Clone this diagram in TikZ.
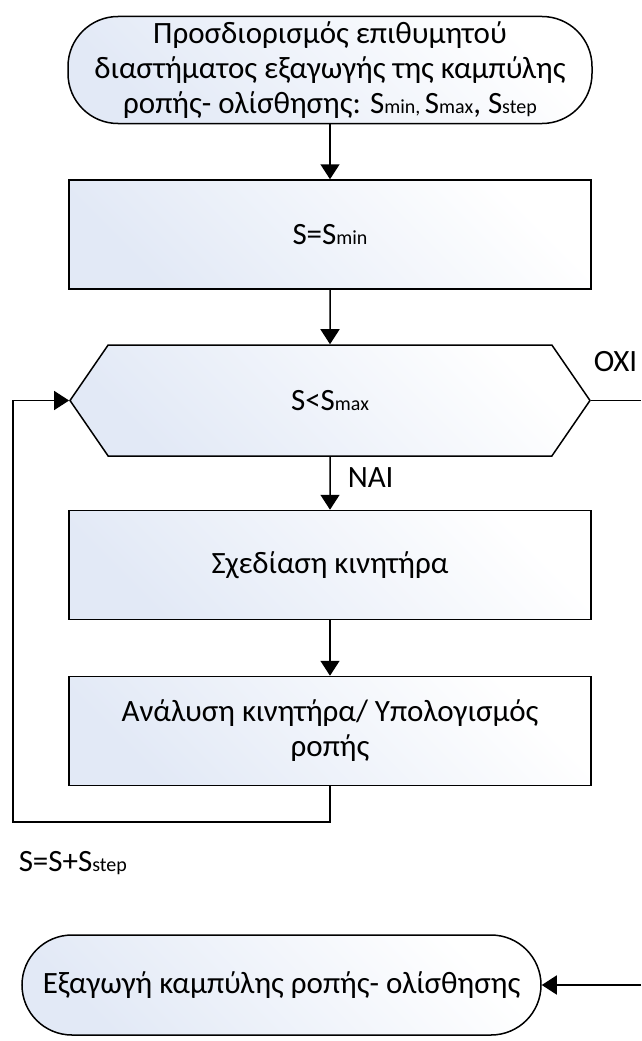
\documentclass[tikz,border=0pt]{standalone}
\usepackage{fontspec}
\setmainfont{Carlito}
\usetikzlibrary{shapes.symbols,arrows.meta,positioning}

\definecolor{shadeblue}{RGB}{226,233,246}
\newcommand{\subtxt}[1]{{\fontsize{20}{20}\selectfont #1}}

\begin{document}
\begin{tikzpicture}[
			x=1pt, y=-1pt,
			>={Triangle[width=19pt,length=15pt]},
			line width=1.5pt,
			every node/.style={font=\fontsize{31}{35}\selectfont},
			blockfill/.style={left color=shadeblue, right color=white, shading angle=135},
			terminal/.style={draw, blockfill, rounded corners=50pt, minimum width=524pt, minimum height=107pt, align=center, inner sep=0pt},
			process/.style={draw, blockfill, minimum width=522pt, minimum height=109pt, align=center, inner sep=0pt},
			decision/.style={draw, blockfill, signal, signal to=west and east, signal pointer angle=111, minimum width=520pt, minimum height=111pt, inner sep=0pt}
			]
			\useasboundingbox (0,0) rectangle (641,1041);
			
			\node[terminal] (start) at (330,70) {Προσδιορισμός επιθυμητού\\διαστήματος εξαγωγής της καμπύλης\\ροπής- ολίσθησης: S\subtxt{min, }S\subtxt{max}, S\subtxt{step}};
			\node[process] (smin) at (330,234.5) {S=S\subtxt{min}};
			\node[decision] (check) at (330,400.5) {S<S\subtxt{max}};
			\node[process] (design) at (330,565) {Σχεδίαση κινητήρα};
			\node[process] (analysis) at (330,731) {Ανάλυση κινητήρα/ Υπολογισμός\\ροπής};
			\node[terminal, minimum width=519pt, minimum height=100pt] (export) at (281.5,985) {Εξαγωγή καμπύλης ροπής- ολίσθησης};
			
			\node[anchor=west, inner sep=0pt] (yes) at (347,478) {ΝΑΙ};
			\node[anchor=west, inner sep=0pt] (no) at (593,362) {ΟΧΙ};
			\node[anchor=west, inner sep=0pt] (incr) at (18,863) {S=S+S\subtxt{step}};
			
			\coordinate (noend) at (641,400.5);
			\coordinate (loopa) at (330,822);
			\coordinate (loopb) at (13,822);
			\coordinate (loopc) at (13,400.5);
			\coordinate (inend) at (641,985);
			
			\draw[->] (start) -- (smin);
			\draw[->] (smin) -- (check);
			\draw[->] (check) -- (design);
			\draw[->] (design) -- (analysis);
			\draw[->] (analysis.south) -- (loopa) -- (loopb) -- (loopc) -- (check.west);
			\draw (check.east) -- (noend);
			\draw[->] (inend) -- (export.east);
		\end{tikzpicture}
\end{document}
